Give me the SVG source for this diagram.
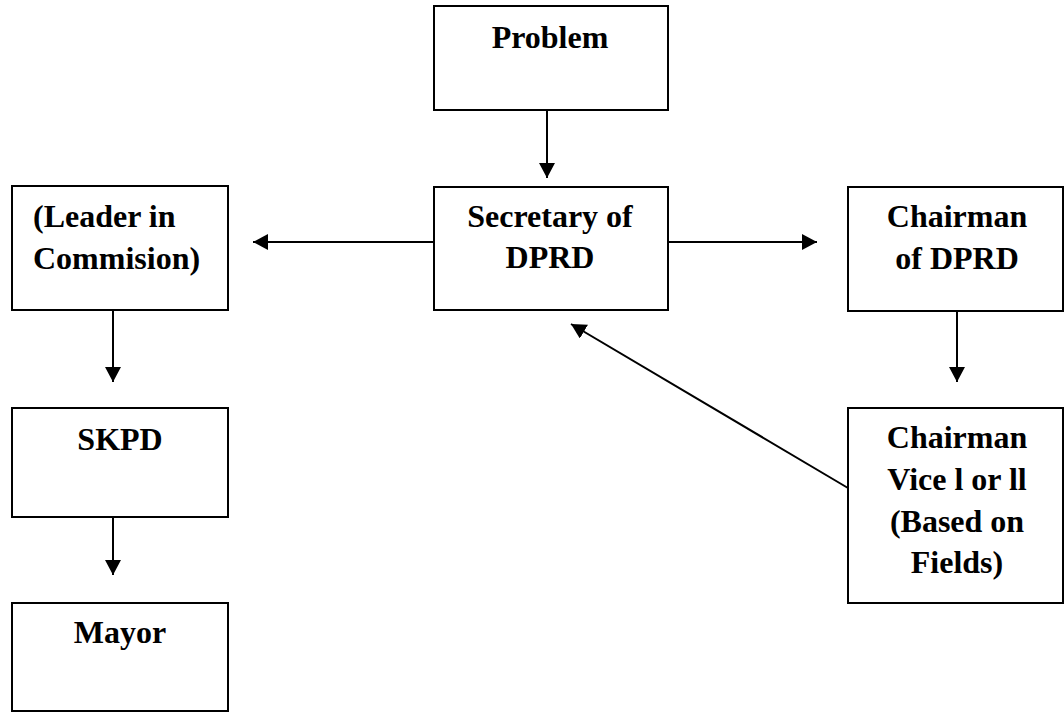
<svg xmlns="http://www.w3.org/2000/svg" width="1064" height="713" viewBox="0 0 1064 713">
<style>
.box{fill:#fff;stroke:#000;stroke-width:2}
.t{font-family:"Liberation Serif","Times New Roman",serif;font-weight:bold;font-size:32px;fill:#000}
.c{text-anchor:middle}
.ln{stroke:#000;stroke-width:2;fill:none;marker-end:url(#ah)}
</style>
<defs>
<marker id="ah" markerUnits="userSpaceOnUse" markerWidth="16" markerHeight="16" viewBox="0 0 16 16" refX="15" refY="8" orient="auto">
<path d="M0,0 L15,8 L0,16 Z" fill="#000"/>
</marker>
</defs>
<rect width="1064" height="713" fill="#fff"/>
<g id="connectors">
<line class="ln" x1="547" y1="110" x2="547" y2="178"/>
<line class="ln" x1="434" y1="242" x2="253" y2="242"/>
<line class="ln" x1="668" y1="242" x2="817" y2="242"/>
<line class="ln" x1="113" y1="310" x2="113" y2="382"/>
<line class="ln" x1="113" y1="517" x2="113" y2="575"/>
<line class="ln" x1="957" y1="311" x2="957" y2="382"/>
<line class="ln" x1="848" y1="488" x2="571" y2="324"/>
</g>
<g id="problem">
<rect class="box" x="434" y="6" width="234" height="104"/>
<text class="t c" x="550" y="48">Problem</text>
</g>
<g id="secretary">
<rect class="box" x="434" y="187" width="234" height="123"/>
<text class="t c" x="550" y="227">Secretary of</text>
<text class="t c" x="550" y="268">DPRD</text>
</g>
<g id="leader">
<rect class="box" x="12" y="186" width="216" height="124"/>
<text class="t" x="33" y="227">(Leader in</text>
<text class="t" x="33" y="269">Commision)</text>
</g>
<g id="chairman">
<rect class="box" x="848" y="187" width="215" height="124"/>
<text class="t c" x="957" y="227">Chairman</text>
<text class="t c" x="957" y="269">of DPRD</text>
</g>
<g id="vice">
<rect class="box" x="848" y="408" width="215" height="195"/>
<text class="t c" x="957" y="448">Chairman</text>
<text class="t c" x="957" y="490">Vice l or ll</text>
<text class="t c" x="957" y="532">(Based on</text>
<text class="t c" x="957" y="573">Fields)</text>
</g>
<g id="skpd">
<rect class="box" x="12" y="408" width="216" height="109"/>
<text class="t c" x="120" y="450">SKPD</text>
</g>
<g id="mayor">
<rect class="box" x="12" y="603" width="216" height="108"/>
<text class="t c" x="120" y="643">Mayor</text>
</g>
</svg>
